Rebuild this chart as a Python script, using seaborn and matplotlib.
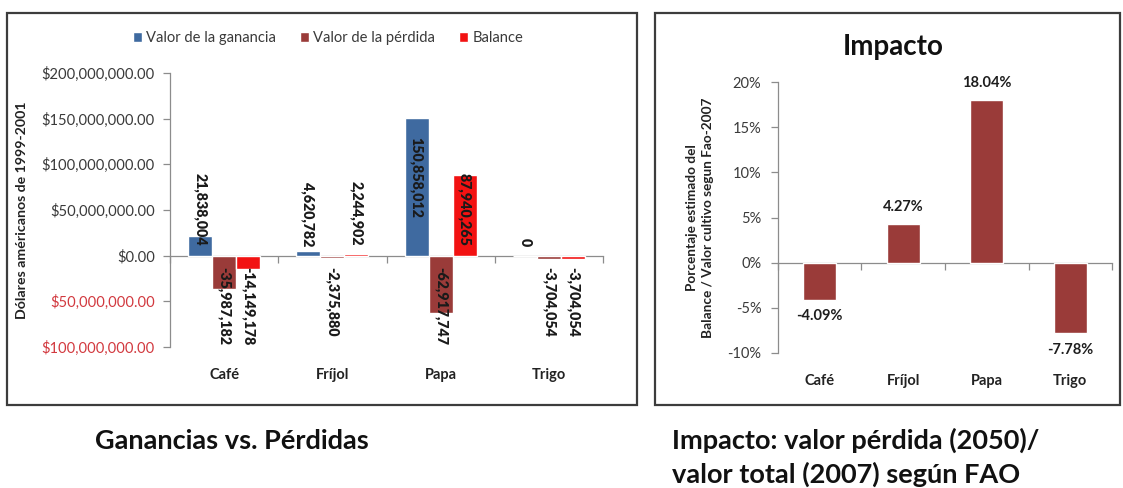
import matplotlib
matplotlib.use("Agg")
import matplotlib.pyplot as plt
from matplotlib.patches import Rectangle
import seaborn as sns
import pandas as pd
import numpy as np

# ---------------- data ----------------
categories = ["Café", "Fríjol", "Papa", "Trigo"]
series_names = ["Valor de la ganancia", "Valor de la pérdida", "Balance"]
ganancia = [21838004, 4620782, 150858012, 0]
perdida = [-35987182, -2375880, -62917747, -3704054]
balance = [-14149178, 2244902, 87940265, -3704054]
impacto_pct = [-4.09, 4.27, 18.04, -7.78]
left_yticks = [-100e6, -50e6, 0, 50e6, 100e6, 150e6, 200e6]
right_yticks = [-10, -5, 0, 5, 10, 15, 20]

# ---------------- style ----------------
BLUE = "#3F6AA0"
BROWN = "#9A3B39"
RED = "#F21212"
AXIS = "#8C8C8C"
TXT = "#3A3A3A"
NEG = "#D2393F"

sns.set_theme(style="ticks")
plt.rcParams["font.family"] = ["Lato", "DejaVu Sans"]

W, H = 1123, 488
fig = plt.figure(figsize=(W / 100, H / 100), dpi=100)


def fx(px):
    return px / W


def fy(py):
    return 1 - py / H


# frames
for x0, x1 in [(7, 637), (655, 1120)]:
    fig.add_artist(Rectangle((fx(x0), fy(405)), fx(x1 - x0), (405 - 13) / H,
                             transform=fig.transFigure, fill=False,
                             edgecolor="#3C3C3C", lw=1.6))

ax1 = fig.add_axes([fx(170), fy(347), fx(603 - 170), (347 - 73) / H])
ax2 = fig.add_axes([fx(778), fy(353), fx(1112 - 778), (353 - 82) / H])

# ---------------- left chart ----------------
df = pd.DataFrame({
    "cultivo": categories * 3,
    "serie": np.repeat(series_names, len(categories)),
    "valor": ganancia + perdida + balance,
})
series_vals = {"Valor de la ganancia": ganancia,
               "Valor de la pérdida": perdida,
               "Balance": balance}

sns.barplot(data=df, x="cultivo", y="valor", hue="serie",
            hue_order=series_names, order=categories,
            palette=[BLUE, BROWN, RED], saturation=1, width=0.667,
            gap=0, errorbar=None, ax=ax1)
handles, labels = ax1.get_legend_handles_labels()
if ax1.get_legend() is not None:
    ax1.get_legend().remove()

ymin1, ymax1 = left_yticks[0], left_yticks[-1]
ax1.set_ylim(ymin1, ymax1)
ax1.set_xlim(-0.5, len(categories) - 0.5)
ax1.set_xlabel("")
ax1.set_ylabel("")
for s in ["top", "right", "bottom"]:
    ax1.spines[s].set_visible(False)
ax1.spines["left"].set_color(AXIS)
ax1.spines["left"].set_linewidth(0.9)

ax1.set_yticks(left_yticks)
ax1.set_yticklabels([f"${abs(t):,.2f}" for t in left_yticks])
for t, lab in zip(left_yticks, ax1.get_yticklabels()):
    lab.set_color(NEG if t < 0 else TXT)
ax1.tick_params(axis="y", direction="out", length=5, width=0.9, color=AXIS,
                pad=6, labelsize=10.6)
ax1.set_xticks(range(len(categories)))
ax1.set_xticklabels(categories, fontweight="bold", fontsize=10.5, color="#222222")
ax1.tick_params(axis="x", length=0, pad=15)

sec1 = ax1.secondary_xaxis((0 - ymin1) / (ymax1 - ymin1))
sec1.set_xticks(np.arange(-0.5, len(categories), 1.0))
sec1.tick_params(direction="out", length=5, width=0.9, color=AXIS,
                 labelbottom=False, labeltop=False)
for s in sec1.spines.values():
    s.set_color(AXIS)
    s.set_linewidth(0.9)

label_lift = {("Papa", "Valor de la ganancia"): 20}
for name, cont in zip(series_names, ax1.containers):
    vals = series_vals[name]
    for rect in cont:
        xc = rect.get_x() + rect.get_width() / 2
        i = int(round(xc))
        v = vals[i]
        lift = label_lift.get((categories[i], name), 0)
        if v >= 0:
            off, va = 7 + lift, "bottom"
        else:
            off, va = -8.5, "top"
        ax1.annotate(f"{v:,.0f}", xy=(xc, 0), xytext=(0, off),
                     textcoords="offset points", rotation=-90, ha="center",
                     va=va, fontsize=10.3, fontweight="heavy", color="#1A1A1A")

fig.legend(handles, labels, loc="center", bbox_to_anchor=(fx(328), fy(38)),
           ncol=3, frameon=False, fontsize=10.6, handlelength=0.62,
           handleheight=0.62, handletextpad=0.3, columnspacing=1.6,
           labelcolor=TXT)

fig.text(fx(22), fy(210), "Dólares américanos de 1999-2001", rotation=90,
         ha="center", va="center", fontsize=10.2, fontweight="bold",
         color="#222222")

# ---------------- right chart ----------------
sns.barplot(x=categories, y=impacto_pct, color=BROWN, saturation=1,
            width=0.4, errorbar=None, ax=ax2)
ymin2, ymax2 = right_yticks[0], right_yticks[-1]
ax2.set_ylim(ymin2, ymax2)
ax2.set_xlim(-0.5, len(categories) - 0.5)
for s in ["top", "right", "bottom"]:
    ax2.spines[s].set_visible(False)
ax2.spines["left"].set_color(AXIS)
ax2.spines["left"].set_linewidth(0.9)
ax2.set_yticks(right_yticks)
ax2.set_yticklabels([f"{t:.0f}%" for t in right_yticks], color=TXT)
ax2.tick_params(axis="y", direction="out", length=5, width=0.9, color=AXIS,
                pad=7, labelsize=10.5)
ax2.set_xticks(range(len(categories)))
ax2.set_xticklabels(categories, fontweight="bold", fontsize=10.5, color="#222222")
ax2.tick_params(axis="x", length=0, pad=15)

sec2 = ax2.secondary_xaxis((0 - ymin2) / (ymax2 - ymin2))
sec2.set_xticks(np.arange(-0.5, len(categories), 1.0))
sec2.tick_params(direction="out", length=5, width=0.9, color=AXIS,
                 labelbottom=False, labeltop=False)
for s in sec2.spines.values():
    s.set_color(AXIS)
    s.set_linewidth(0.9)

for rect, v in zip(ax2.containers[0], impacto_pct):
    xc = rect.get_x() + rect.get_width() / 2
    if v >= 0:
        off, va = 7, "bottom"
    else:
        off, va = -7, "top"
    ax2.annotate(f"{v:.2f}%", xy=(xc, v), xytext=(0, off),
                 textcoords="offset points", ha="center", va=va,
                 fontsize=10.5, fontweight="bold", color="#1E1E1E")

fig.text(fx(893), fy(47), "Impacto", ha="center", va="center", fontsize=20,
         fontweight="bold", color="#111111")
fig.text(fx(700), fy(218),
         "Porcentaje estimado del\nBalance / Valor cultivo segun Fao-2007",
         rotation=90, ha="center", va="center", multialignment="center",
         fontsize=9.8, fontweight="bold", color="#222222", linespacing=1.45)

# ---------------- captions ----------------
fig.text(fx(95), fy(449), "Ganancias vs. Pérdidas", ha="left",
         va="baseline", fontsize=19.5, fontweight="bold", color="#111111")
fig.text(fx(672), fy(449), "Impacto: valor pérdida (2050)/", ha="left",
         va="baseline", fontsize=19.5, fontweight="bold", color="#111111")
fig.text(fx(672), fy(483), "valor total (2007) según FAO", ha="left",
         va="baseline", fontsize=19.5, fontweight="bold", color="#111111")

fig.savefig("out.png", dpi=100)
